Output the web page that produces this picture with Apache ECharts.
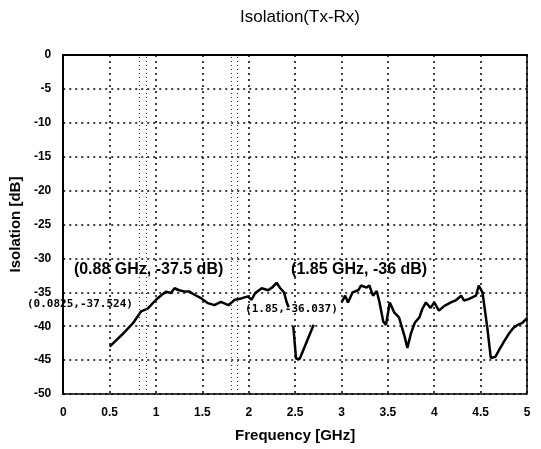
<!DOCTYPE html>
<html>
<head>
    <meta charset="UTF-8">
    <title>Isolation(Tx-Rx)</title>
    <script src="https://cdn.jsdelivr.net/npm/echarts@6/dist/echarts.min.js"></script>
</head>
<body style="margin:0;background:#fff;">
<div id="chart" style="width:541px;height:449px;"></div>
<script type="text/javascript">

    // frequency [GHz] and isolation [dB]; null = break in the trace
    var freq = [0.50, 0.63, 0.75, 0.84, 0.91, 1.00, 1.06, 1.11, 1.16, 1.20, 1.25, 1.31, 1.36, 1.42, 1.49,
        1.56, 1.63, 1.70, 1.78, 1.85, 1.92, 1.99, 2.03, 2.07, 2.14, 2.21, 2.26, 2.30, 2.34, 2.38, 2.41, 2.43,
        2.45, 2.48, 2.51, 2.55, 2.70, 2.85,
        3.00, 3.04, 3.07, 3.12, 3.18, 3.21, 3.27, 3.30, 3.34, 3.38, 3.41, 3.45, 3.48, 3.52, 3.57, 3.62,
        3.68, 3.71, 3.75, 3.79, 3.84, 3.87, 3.91, 3.96, 4.00, 4.05, 4.11, 4.18, 4.23, 4.29, 4.32, 4.37,
        4.45, 4.48, 4.52, 4.57, 4.61, 4.66, 4.70, 4.75, 4.80, 4.85, 4.90, 4.95, 5.00];
    var isolation = [-43.0, -41.3, -39.6, -37.8, -37.4, -36.1, -35.4, -34.9, -35.1, -34.4, -34.7, -34.9, -34.9, -35.4, -35.9,
        -36.6, -36.9, -36.4, -36.9, -36.1, -35.9, -35.6, -36.1, -35.1, -34.4, -34.7, -34.2, -33.6, -34.4, -35.0, -36.5, -37.2,
        null, -40.0, -44.8, -44.8, -39.8, null,
        -36.5, -35.5, -36.5, -35.0, -34.7, -34.0, -34.3, -34.0, -35.5, -34.8, -36.5, -39.3, -39.8, -36.5, -38.0, -38.7,
        -41.5, -43.2, -41.0, -39.5, -38.7, -37.5, -36.5, -37.3, -36.5, -37.7, -37.0, -36.5, -36.2, -35.5, -36.2, -36.0,
        -35.5, -34.0, -35.0, -40.0, -44.7, -44.5, -43.5, -42.3, -41.2, -40.3, -39.8, -39.5, -38.8];

    // thin dotted band markers
    var bandLines = [0.82, 0.89, 1.81, 1.88];

    // text notes: label, x [GHz], y [dB]
    var noteText = ['(0.88 GHz, -37.5 dB)', '(1.85 GHz, -36 dB)'];
    var noteX = [0.92, 3.19];
    var noteY = [-31.7, -31.7];
    var markText = ['(0.0825,-37.524)', '(1.85,-36.037)'];
    var markX = [0.18, 2.46];
    var markY = [-36.7, -37.5];

    var xTicks = ['0', '0.5', '1', '1.5', '2', '2.5', '3', '3.5', '4', '4.5', '5'];

    var myChart = echarts.init(document.getElementById('chart'));

    var notes = [];
    for (var i = 0; i < noteText.length; i++) {
        notes.push({
            coord: [noteX[i], noteY[i]],
            label: {
                formatter: noteText[i],
                fontFamily: 'Liberation Sans Narrow, Liberation Sans, sans-serif',
                fontSize: 16, fontWeight: 'bold', color: '#000'
            }
        });
    }
    for (var j = 0; j < markText.length; j++) {
        notes.push({
            coord: [markX[j], markY[j]],
            label: {
                formatter: markText[j],
                fontFamily: 'DejaVu Sans Mono, monospace',
                fontSize: 11, fontWeight: 'bold', color: '#000'
            }
        });
    }

    myChart.setOption({
        animation: false,
        backgroundColor: '#fff',
        title: {
            text: 'Isolation(Tx-Rx)',
            left: 295, top: 4, textAlign: 'center',
            textStyle: {fontFamily: 'Liberation Sans', fontSize: 17, fontWeight: 'normal', color: '#000'}
        },
        grid: {
            left: 63, right: 14, top: 55, bottom: 55,
            show: true, borderColor: '#000', borderWidth: 1.5
        },
        xAxis: {
            type: 'value', min: 0, max: 5, interval: 0.5,
            name: 'Frequency [GHz]', nameLocation: 'middle', nameGap: 34,
            nameTextStyle: {fontFamily: 'Liberation Sans', fontSize: 15, fontWeight: 'bold', color: '#000'},
            axisLine: {lineStyle: {color: '#000', width: 2}},
            axisTick: {show: false},
            axisLabel: {
                margin: 13, color: '#000', fontFamily: 'Liberation Sans', fontSize: 12, fontWeight: 'bold',
                formatter: function (v) { return xTicks[Math.round(v * 2)]; }
            },
            splitLine: {show: true, lineStyle: {color: '#000', type: [2, 4], width: 1.5}}
        },
        yAxis: {
            type: 'value', min: -50, max: 0, interval: 5,
            name: 'Isolation [dB]', nameLocation: 'middle', nameGap: 30,
            nameTextStyle: {fontFamily: 'Liberation Sans', fontSize: 15, fontWeight: 'bold', color: '#000'},
            axisLine: {lineStyle: {color: '#000', width: 2}},
            axisTick: {show: false},
            axisLabel: {margin: 12, color: '#000', fontFamily: 'Liberation Sans', fontSize: 12, fontWeight: 'bold'},
            splitLine: {show: true, lineStyle: {color: '#000', type: [2, 4], width: 1.5}}
        },
        series: [{
            type: 'line',
            data: freq.map(function (f, k) { return [f, isolation[k]]; }),
            showSymbol: false,
            connectNulls: false,
            clip: false,
            lineStyle: {color: '#000', width: 2.5},
            markLine: {
                silent: true, symbol: 'none', label: {show: false},
                lineStyle: {color: '#333', type: [1, 3], width: 1.2},
                data: bandLines.map(function (b) { return {xAxis: b}; })
            },
            markPoint: {
                symbol: 'circle', symbolSize: 0,
                label: {show: true, position: 'inside'},
                data: notes
            }
        }]
    });
</script>
</body>
</html>
